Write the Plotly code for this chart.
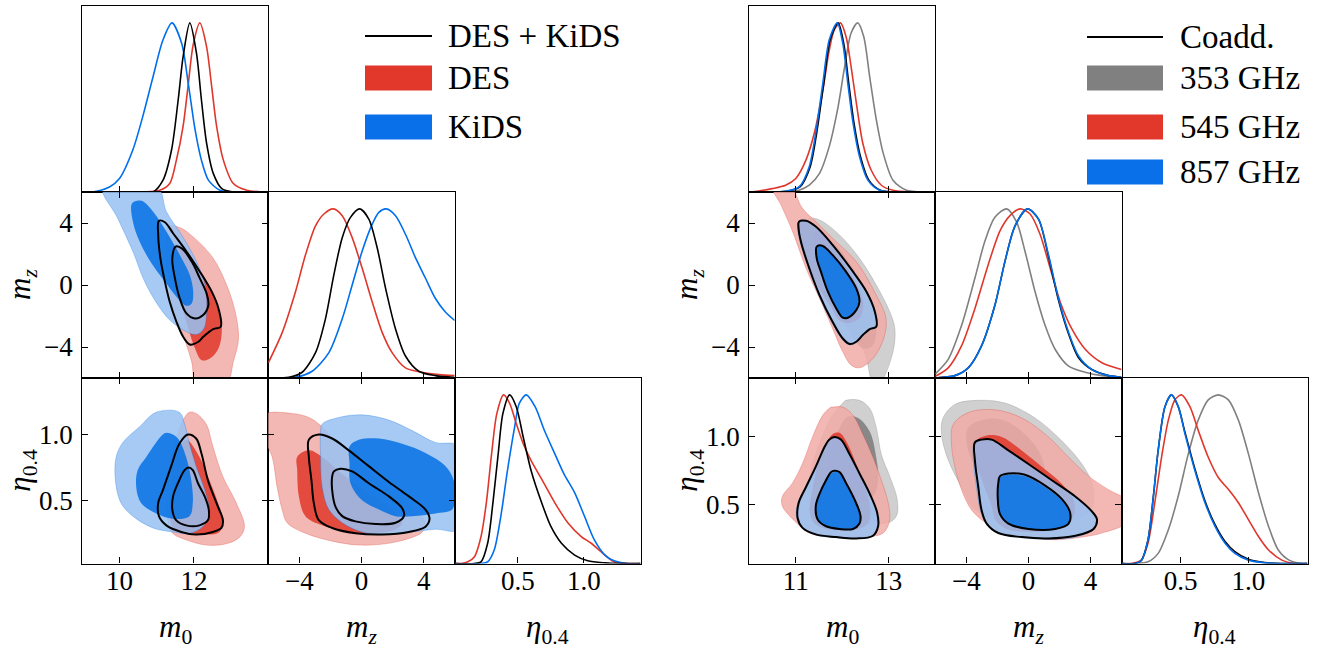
import plotly.graph_objects as go

W, H = 1320, 650

# ---------------- colours ----------------
RED_LIGHT, RED_DARK = "241,172,166", "224,55,42"
BLUE_LIGHT, BLUE_DARK = "151,193,242", "5,113,229"
GRAY_LIGHT, GRAY_DARK = "200,200,200", "123,123,123"
RED_LINE = "#e0372c"
BLUE_LINE = "#006fed"
GRAY_LINE = "#808080"

# ---------------- axis ranges / ticks ----------------
L_M0_RANGE = [9.0, 14.0]
R_M0_RANGE = [10.0, 14.0]
MZ_RANGE = [-6.0, 6.0]
L_ETA_RANGE = [0.02, 1.43]
R_ETA_RANGE = [0.065, 1.435]
L_M0_TICKS = [10, 12]
R_M0_TICKS = [11, 13]
MZ_TICKS = [-4, 0, 4]
MZ_TICKTEXT = ["\u22124", "0", "4"]
ETA_TICKS = [0.5, 1.0]
ETA_TICKTEXT = ["0.5", "1.0"]

# ================= LEFT TRIANGLE: DES + KiDS / DES / KiDS =================
# 1D m0
L_M0_DK_X = [9.0, 10.9, 11.17, 11.4, 11.58, 11.71, 11.89, 12.07, 12.2, 12.34, 12.52, 12.75, 13.06, 14.0]
L_M0_DK_Y = [0, 0, 0.07, 0.25, 0.55, 0.80, 1.0, 0.82, 0.55, 0.29, 0.11, 0.02, 0, 0]
L_M0_DES_X = [9.0, 10.63, 11.08, 11.35, 11.53, 11.71, 11.85, 11.98, 12.16, 12.34, 12.48, 12.61, 12.79, 13.06, 13.42, 13.87, 14.0]
L_M0_DES_Y = [0, 0, 0.01, 0.05, 0.19, 0.39, 0.64, 0.87, 1.0, 0.86, 0.62, 0.39, 0.19, 0.05, 0.01, 0, 0]
L_M0_KIDS_X = [9.0, 9.28, 9.73, 10.0, 10.36, 10.63, 10.9, 11.17, 11.41, 11.67, 11.85, 12.03, 12.2, 12.39, 12.7, 13.06, 14.0]
L_M0_KIDS_Y = [0, 0, 0.03, 0.08, 0.25, 0.45, 0.68, 0.90, 1.0, 0.88, 0.64, 0.37, 0.19, 0.07, 0.01, 0, 0]
# 1D mz
L_MZ_DK_X = [-6, -4.68, -3.82, -2.96, -2.32, -1.78, -1.24, -0.71, -0.11, 0.47, 1.01, 1.55, 2.19, 2.83, 3.69, 4.76, 6.0]
L_MZ_DK_Y = [0, 0.004, 0.034, 0.15, 0.35, 0.61, 0.83, 0.95, 1.0, 0.94, 0.77, 0.53, 0.29, 0.13, 0.04, 0.014, 0.003]
L_MZ_DES_X = [-6, -5.1, -4.25, -3.6, -2.96, -2.42, -1.82, -1.24, -0.6, 0.04, 0.69, 1.33, 1.97, 2.83, 3.9, 5.0, 6.0]
L_MZ_DES_Y = [0.09, 0.27, 0.51, 0.73, 0.90, 0.97, 1.0, 0.96, 0.83, 0.65, 0.45, 0.27, 0.15, 0.06, 0.034, 0.02, 0.014]
L_MZ_KIDS_X = [-6, -4.25, -3.18, -2.1, -1.24, -0.6, 0.04, 0.69, 1.12, 1.59, 2.19, 2.83, 3.48, 4.12, 4.76, 5.4, 6.0]
L_MZ_KIDS_Y = [0, 0.004, 0.04, 0.15, 0.35, 0.55, 0.75, 0.91, 0.98, 1.0, 0.96, 0.85, 0.71, 0.59, 0.47, 0.39, 0.34]
# 1D eta
L_ETA_DK_X = [0.02, 0.17, 0.22, 0.27, 0.31, 0.35, 0.386, 0.437, 0.487, 0.54, 0.60, 0.68, 0.75, 0.83, 0.93, 1.03, 1.16, 1.28, 1.43]
L_ETA_DK_Y = [0, 0, 0.01, 0.12, 0.36, 0.65, 0.89, 1.0, 0.93, 0.75, 0.55, 0.36, 0.22, 0.12, 0.05, 0.016, 0.004, 0, 0]
L_ETA_DES_X = [0.02, 0.07, 0.12, 0.17, 0.22, 0.26, 0.30, 0.34, 0.391, 0.437, 0.487, 0.54, 0.60, 0.68, 0.78, 0.88, 0.98, 1.056, 1.13, 1.23, 1.33, 1.43]
L_ETA_DES_Y = [0, 0, 0.01, 0.04, 0.16, 0.36, 0.65, 0.89, 1.0, 0.95, 0.83, 0.71, 0.61, 0.50, 0.36, 0.24, 0.16, 0.12, 0.07, 0.01, 0, 0]
L_ETA_KIDS_X = [0.02, 0.22, 0.27, 0.32, 0.37, 0.42, 0.475, 0.51, 0.563, 0.63, 0.70, 0.78, 0.85, 0.93, 1.005, 1.08, 1.16, 1.23, 1.33, 1.43]
L_ETA_KIDS_Y = [0, 0, 0.01, 0.08, 0.28, 0.55, 0.81, 0.95, 1.0, 0.93, 0.79, 0.65, 0.53, 0.42, 0.28, 0.14, 0.05, 0.016, 0, 0]

# 2D m0 - mz
KIDS_M0MZ_OUT_X = [9.55, 9.95, 10.36, 10.72, 11.31, 11.80, 12.07, 12.27, 12.34, 12.30, 12.07, 11.67, 11.26, 11.02]
KIDS_M0MZ_OUT_Y = [6.3, 4.31, 2.16, 0.0, -2.16, -3.02, -3.19, -2.80, -1.72, 0.0, 1.51, 3.23, 4.74, 6.3]
KIDS_M0MZ_IN_X = [10.34, 10.59, 10.90, 11.26, 11.62, 11.89, 11.98, 11.94, 11.80, 11.53, 11.22, 10.86, 10.54, 10.36]
KIDS_M0MZ_IN_Y = [5.28, 5.43, 4.74, 3.45, 1.94, 0.65, -0.43, -1.19, -1.34, -0.75, 0.22, 1.40, 2.80, 4.09]
DES_M0MZ_OUT_X = [11.31, 11.62, 12.07, 12.52, 12.88, 13.11, 13.20, 13.06, 12.88, 12.07, 11.94, 11.71, 11.44, 11.31, 11.26]
DES_M0MZ_OUT_Y = [3.77, 3.71, 2.91, 1.72, 0.0, -1.72, -3.45, -4.96, -6.3, -6.3, -4.96, -3.23, -1.51, 0.65, 2.80]
DES_M0MZ_IN_X = [11.49, 11.76, 12.07, 12.39, 12.61, 12.75, 12.66, 12.43, 12.21, 12.03, 11.85, 11.67, 11.51, 11.44]
DES_M0MZ_IN_Y = [2.59, 2.37, 1.29, 0.0, -1.29, -2.80, -4.09, -4.74, -4.85, -4.09, -2.80, -1.29, 0.43, 1.72]
DK_M0MZ_OUT_X = [11.06, 11.22, 11.44, 11.80, 12.16, 12.48, 12.66, 12.72, 12.52, 12.25, 12.12, 11.89, 11.71, 11.53, 11.35, 11.22, 11.10, 11.04]
DK_M0MZ_OUT_Y = [4.14, 4.05, 3.34, 2.16, 0.86, -0.43, -1.51, -2.69, -2.84, -3.34, -3.66, -3.84, -3.34, -2.37, -1.08, 0.22, 1.72, 3.23]
DK_M0MZ_IN_X = [11.51, 11.69, 11.94, 12.16, 12.34, 12.39, 12.25, 12.03, 11.80, 11.62, 11.49, 11.42]
DK_M0MZ_IN_Y = [2.48, 2.33, 1.51, 0.43, -0.54, -1.29, -1.94, -2.16, -1.83, -0.86, 0.43, 1.72]

# 2D m0 - eta
KIDS_M0ETA_OUT_X = [10.99, 10.54, 10.09, 9.91, 9.89, 10.04, 10.36, 10.90, 11.43, 11.88, 12.24, 12.42, 12.29, 12.06, 11.88, 11.75, 11.61]
KIDS_M0ETA_OUT_Y = [1.17, 1.06, 0.94, 0.83, 0.65, 0.48, 0.38, 0.29, 0.26, 0.25, 0.30, 0.40, 0.58, 0.76, 0.93, 1.08, 1.17]
KIDS_M0ETA_IN_X = [11.21, 10.72, 10.49, 10.45, 10.58, 10.99, 11.43, 11.88, 11.97, 11.93, 11.79, 11.57, 11.35]
KIDS_M0ETA_IN_Y = [1.01, 0.83, 0.73, 0.60, 0.48, 0.40, 0.36, 0.38, 0.48, 0.65, 0.83, 0.97, 1.01]
DES_M0ETA_OUT_X = [11.88, 12.06, 12.33, 12.51, 12.78, 13.14, 13.36, 13.23, 12.87, 12.33, 11.79, 11.43, 11.30, 11.26, 11.35, 11.52, 11.75]
DES_M0ETA_OUT_Y = [1.17, 1.16, 1.08, 0.91, 0.68, 0.48, 0.30, 0.22, 0.17, 0.16, 0.20, 0.25, 0.35, 0.53, 0.73, 0.96, 1.13]
DES_M0ETA_IN_X = [11.79, 12.15, 12.42, 12.65, 12.78, 12.69, 12.33, 11.79, 11.43, 11.35, 11.39, 11.52]
DES_M0ETA_IN_Y = [0.96, 0.83, 0.65, 0.48, 0.35, 0.26, 0.24, 0.26, 0.30, 0.43, 0.63, 0.83]
DK_M0ETA_OUT_X = [11.84, 12.06, 12.20, 12.38, 12.65, 12.78, 12.74, 12.51, 12.06, 11.66, 11.26, 11.06, 11.04, 11.17, 11.39, 11.61]
DK_M0ETA_OUT_Y = [1.00, 0.97, 0.86, 0.65, 0.45, 0.35, 0.29, 0.26, 0.24, 0.26, 0.31, 0.38, 0.48, 0.58, 0.76, 0.93]
DK_M0ETA_IN_X = [11.86, 11.97, 12.11, 12.29, 12.40, 12.38, 12.15, 11.79, 11.52, 11.42, 11.44, 11.57, 11.75]
DK_M0ETA_IN_Y = [0.75, 0.73, 0.63, 0.53, 0.43, 0.35, 0.31, 0.31, 0.35, 0.43, 0.53, 0.63, 0.73]

# 2D mz - eta
DES_MZETA_OUT_X = [-6.3, -4.46, -3.39, -2.64, -1.46, 0.04, 1.76, 3.26, 4.06, 3.91, 3.05, 1.55, -0.17, -1.89, -3.61, -4.79, -5.11, -5.43, -5.75, -6.3]
DES_MZETA_OUT_Y = [1.15, 1.16, 1.13, 1.07, 0.92, 0.76, 0.58, 0.44, 0.34, 0.26, 0.21, 0.17, 0.16, 0.19, 0.25, 0.33, 0.43, 0.60, 0.83, 0.98]
DES_MZETA_IN_X = [-4.14, -3.39, -2.53, -1.24, 0.47, 1.97, 2.62, 2.19, 0.69, -1.03, -2.53, -3.61, -4.03, -4.14]
DES_MZETA_IN_Y = [0.83, 0.88, 0.83, 0.70, 0.55, 0.43, 0.33, 0.28, 0.25, 0.26, 0.31, 0.38, 0.53, 0.73]
KIDS_MZETA_OUT_X = [-2.53, -1.46, 0.04, 1.76, 3.26, 4.76, 6.3, 6.3, 4.76, 3.26, 1.76, 0.04, -1.24, -2.10, -2.53, -2.64, -2.64]
KIDS_MZETA_OUT_Y = [1.08, 1.13, 1.15, 1.11, 1.03, 0.94, 0.91, 0.28, 0.28, 0.26, 0.24, 0.26, 0.33, 0.43, 0.60, 0.86, 1.01]
KIDS_MZETA_IN_X = [-0.77, -0.17, 1.12, 2.62, 4.12, 5.41, 5.94, 5.99, 5.84, 4.76, 3.26, 2.19, 1.12, 0.04, -0.71, -0.77]
KIDS_MZETA_IN_Y = [0.91, 0.96, 0.97, 0.93, 0.86, 0.76, 0.65, 0.50, 0.43, 0.40, 0.38, 0.38, 0.43, 0.50, 0.63, 0.78]
DK_MZETA_OUT_X = [-3.39, -2.75, -1.89, -0.82, 0.47, 1.76, 3.05, 4.12, 4.38, 4.12, 3.05, 1.33, -0.39, -1.89, -2.75, -3.07, -3.22, -3.39]
DK_MZETA_OUT_Y = [0.96, 1.00, 0.97, 0.88, 0.76, 0.64, 0.53, 0.43, 0.36, 0.30, 0.26, 0.24, 0.25, 0.29, 0.35, 0.48, 0.65, 0.83]
DK_MZETA_IN_X = [-1.78, -1.35, -0.60, 0.47, 1.76, 2.62, 2.73, 2.19, 0.90, -0.39, -1.24, -1.67, -1.89, -1.89]
DK_MZETA_IN_Y = [0.72, 0.74, 0.72, 0.63, 0.53, 0.44, 0.38, 0.33, 0.32, 0.34, 0.38, 0.45, 0.58, 0.68]

# ================= RIGHT TRIANGLE: Coadd. / 353 / 545 / 857 GHz =================
R_M0_CO_X = [10.0, 10.8, 11.09, 11.31, 11.45, 11.6, 11.74, 11.91, 12.03, 12.14, 12.25, 12.39, 12.57, 12.82, 13.1, 14.0]
R_M0_CO_Y = [0, 0.004, 0.03, 0.15, 0.35, 0.64, 0.90, 1.0, 0.88, 0.64, 0.41, 0.21, 0.07, 0.01, 0, 0]
R_M0_353_X = [10.0, 10.78, 11.07, 11.29, 11.51, 11.72, 11.9, 12.05, 12.19, 12.33, 12.46, 12.59, 12.73, 12.88, 13.09, 13.38, 13.8, 14.0]
R_M0_353_Y = [0, 0, 0.01, 0.04, 0.11, 0.27, 0.49, 0.74, 0.94, 1.0, 0.92, 0.68, 0.43, 0.23, 0.07, 0.01, 0, 0]
R_M0_545_X = [10.0, 10.2, 10.49, 10.78, 11.0, 11.22, 11.4, 11.58, 11.72, 11.83, 11.96, 12.08, 12.19, 12.3, 12.44, 12.62, 12.84, 13.09, 13.5, 14.0]
R_M0_545_Y = [0, 0.006, 0.02, 0.04, 0.08, 0.19, 0.35, 0.60, 0.84, 0.96, 1.0, 0.92, 0.74, 0.53, 0.29, 0.13, 0.04, 0.01, 0, 0]
R_M0_857_X = [10.0, 10.2, 10.78, 11.07, 11.29, 11.43, 11.58, 11.72, 11.89, 12.01, 12.12, 12.23, 12.37, 12.55, 12.8, 13.09, 14.0]
R_M0_857_Y = [0, 0, 0.004, 0.03, 0.15, 0.35, 0.64, 0.90, 1.0, 0.88, 0.64, 0.41, 0.21, 0.07, 0.01, 0, 0]

R_MZ_CO_X = [-6, -4.74, -3.88, -3.02, -2.16, -1.51, -0.86, -0.06, 0.65, 1.29, 1.94, 2.59, 3.23, 4.09, 5.17, 6.0]
R_MZ_CO_Y = [0, 0.014, 0.06, 0.19, 0.43, 0.69, 0.90, 1.0, 0.94, 0.72, 0.46, 0.26, 0.12, 0.05, 0.014, 0.004]
R_MZ_353_X = [-6, -5.17, -4.31, -3.45, -2.8, -2.16, -1.4, -0.75, -0.22, 0.43, 1.08, 1.72, 2.59, 3.66, 4.74, 6.0]
R_MZ_353_Y = [0.024, 0.11, 0.31, 0.59, 0.81, 0.95, 1.0, 0.92, 0.75, 0.51, 0.31, 0.17, 0.07, 0.034, 0.014, 0.006]
R_MZ_545_X = [-6, -5.17, -4.31, -3.45, -2.59, -1.83, -1.19, -0.54, 0.11, 0.75, 1.4, 2.05, 2.8, 3.66, 4.74, 6.0]
R_MZ_545_Y = [0.01, 0.06, 0.19, 0.41, 0.67, 0.87, 0.96, 1.0, 0.97, 0.85, 0.65, 0.45, 0.29, 0.17, 0.09, 0.05]
R_MZ_857_X = [-6, -4.74, -3.88, -3.02, -2.16, -1.51, -0.86, -0.06, 0.65, 1.29, 1.94, 2.59, 3.23, 4.09, 5.17, 6.0]
R_MZ_857_Y = [0, 0.014, 0.06, 0.19, 0.43, 0.69, 0.90, 1.0, 0.94, 0.73, 0.47, 0.27, 0.13, 0.05, 0.014, 0.004]

R_ETA_CO_X = [0.065, 0.163, 0.21, 0.26, 0.30, 0.335, 0.385, 0.433, 0.483, 0.532, 0.606, 0.68, 0.754, 0.828, 0.90, 1.0, 1.12, 1.25, 1.435]
R_ETA_CO_Y = [0, 0, 0.016, 0.14, 0.40, 0.67, 0.93, 1.0, 0.93, 0.78, 0.56, 0.37, 0.23, 0.13, 0.07, 0.025, 0.005, 0, 0]
R_ETA_353_X = [0.065, 0.163, 0.26, 0.335, 0.41, 0.483, 0.557, 0.63, 0.704, 0.778, 0.852, 0.926, 1.0, 1.074, 1.148, 1.22, 1.30, 1.40, 1.435]
R_ETA_353_Y = [0, 0, 0.01, 0.06, 0.20, 0.40, 0.65, 0.85, 0.97, 1.0, 0.97, 0.85, 0.65, 0.42, 0.22, 0.08, 0.02, 0, 0]
R_ETA_545_X = [0.065, 0.14, 0.21, 0.26, 0.31, 0.36, 0.41, 0.458, 0.507, 0.569, 0.63, 0.704, 0.778, 0.852, 0.926, 1.0, 1.074, 1.148, 1.246, 1.34, 1.435]
R_ETA_545_Y = [0, 0, 0.02, 0.12, 0.36, 0.63, 0.85, 0.97, 1.0, 0.93, 0.79, 0.63, 0.51, 0.44, 0.36, 0.26, 0.16, 0.08, 0.02, 0, 0]
R_ETA_857_X = [0.065, 0.163, 0.21, 0.26, 0.30, 0.335, 0.385, 0.433, 0.483, 0.532, 0.606, 0.68, 0.754, 0.828, 0.90, 1.0, 1.12, 1.25, 1.435]
R_ETA_857_Y = [0, 0, 0.016, 0.14, 0.40, 0.67, 0.93, 1.0, 0.93, 0.77, 0.55, 0.36, 0.22, 0.12, 0.06, 0.02, 0.004, 0, 0]

# 2D m0 - mz
P353_M0MZ_OUT_X = [11.22, 11.43, 11.79, 12.08, 12.37, 12.52, 12.66, 12.81, 13.09, 13.13, 13.02, 12.73, 12.37, 11.94, 11.51, 11.29]
P353_M0MZ_OUT_Y = [4.09, 2.16, 0.0, -1.72, -3.45, -4.74, -6.3, -6.3, -4.31, -2.80, -1.72, 0.0, 1.72, 3.23, 4.20, 4.31]
P353_M0MZ_IN_X = [11.43, 11.79, 12.23, 12.59, 12.73, 12.66, 12.44, 12.16, 11.79, 11.51, 11.40]
P353_M0MZ_IN_Y = [3.45, 2.80, 1.08, -0.86, -2.59, -3.88, -4.09, -3.02, -1.08, 1.08, 2.59]
P545_M0MZ_OUT_X = [10.50, 10.89, 11.14, 11.43, 11.79, 12.30, 12.73, 12.94, 12.89, 12.66, 12.37, 12.19, 12.01, 11.79, 11.51, 11.22, 10.93, 10.68]
P545_M0MZ_OUT_Y = [6.3, 6.3, 4.96, 4.09, 3.02, 1.51, -0.65, -2.16, -3.45, -4.74, -5.34, -5.17, -4.31, -2.80, -0.86, 1.08, 3.45, 5.17]
P545_M0MZ_IN_X = [11.05, 11.25, 11.48, 11.80, 12.15, 12.38, 12.45, 12.35, 12.15, 11.95, 11.75, 11.50, 11.25, 11.08]
P545_M0MZ_IN_Y = [4.10, 4.10, 3.70, 2.50, 0.90, -0.40, -1.40, -2.20, -2.45, -2.30, -1.40, -0.20, 1.40, 3.00]
P857_M0MZ_OUT_X = [11.06, 11.22, 11.44, 11.80, 12.24, 12.53, 12.71, 12.74, 12.60, 12.45, 12.31, 12.15, 11.99, 11.77, 11.49, 11.27, 11.09, 11.04]
P857_M0MZ_OUT_Y = [4.12, 4.17, 3.78, 2.58, 0.85, -0.44, -1.73, -2.70, -2.86, -3.26, -3.70, -3.86, -3.48, -2.38, -0.64, 1.10, 2.82, 3.68]
P857_M0MZ_IN_X = [11.45, 11.58, 11.79, 12.07, 12.29, 12.36, 12.29, 12.11, 12.00, 11.86, 11.68, 11.53, 11.45]
P857_M0MZ_IN_Y = [2.46, 2.50, 1.92, 0.85, -0.22, -1.08, -1.62, -2.10, -2.10, -1.50, -0.42, 0.86, 1.72]
CO_M0MZ_OUT_X = [11.07, 11.22, 11.43, 11.79, 12.23, 12.52, 12.70, 12.73, 12.59, 12.44, 12.30, 12.16, 12.01, 11.79, 11.51, 11.29, 11.11, 11.06]
CO_M0MZ_OUT_Y = [4.09, 4.14, 3.77, 2.59, 0.86, -0.43, -1.72, -2.69, -2.84, -3.23, -3.66, -3.81, -3.45, -2.37, -0.65, 1.08, 2.80, 3.66]
CO_M0MZ_IN_X = [11.45, 11.58, 11.79, 12.08, 12.30, 12.37, 12.30, 12.12, 12.01, 11.87, 11.69, 11.54, 11.45]
CO_M0MZ_IN_Y = [2.48, 2.52, 1.94, 0.86, -0.22, -1.08, -1.62, -2.11, -2.11, -1.51, -0.43, 0.86, 1.72]

# 2D m0 - eta
P353_M0ETA_OUT_X = [12.08, 12.37, 12.59, 12.73, 12.84, 13.02, 13.18, 13.17, 13.02, 12.66, 12.23, 11.79, 11.43, 11.29, 11.32, 11.51, 11.79, 12.01]
P353_M0ETA_OUT_Y = [1.27, 1.27, 1.21, 1.07, 0.87, 0.71, 0.54, 0.42, 0.37, 0.36, 0.36, 0.39, 0.46, 0.58, 0.75, 0.95, 1.16, 1.25]
P353_M0ETA_IN_X = [12.12, 12.34, 12.59, 12.73, 12.77, 12.66, 12.37, 12.01, 11.72, 11.65, 11.72, 11.90]
P353_M0ETA_IN_Y = [1.15, 1.14, 1.04, 0.85, 0.68, 0.56, 0.51, 0.52, 0.58, 0.71, 0.87, 1.04]
P545_M0ETA_OUT_X = [11.79, 12.01, 12.23, 12.44, 12.66, 12.84, 12.99, 13.02, 12.88, 12.37, 11.79, 11.29, 11.00, 10.71, 10.71, 10.93, 11.14, 11.36, 11.58, 11.76]
P545_M0ETA_OUT_Y = [1.22, 1.22, 1.16, 1.02, 0.85, 0.68, 0.51, 0.39, 0.29, 0.26, 0.26, 0.29, 0.37, 0.49, 0.56, 0.66, 0.80, 1.00, 1.16, 1.22]
P545_M0ETA_IN_X = [11.79, 11.94, 12.08, 12.30, 12.52, 12.60, 12.55, 12.35, 12.00, 11.65, 11.40, 11.30, 11.35, 11.48, 11.65]
P545_M0ETA_IN_Y = [1.02, 1.03, 0.97, 0.80, 0.60, 0.45, 0.36, 0.32, 0.31, 0.32, 0.36, 0.45, 0.60, 0.80, 0.95]
P857_M0ETA_OUT_X = [11.72, 11.83, 11.97, 12.16, 12.37, 12.59, 12.75, 12.77, 12.66, 12.30, 11.87, 11.43, 11.13, 11.02, 11.04, 11.21, 11.43, 11.61]
P857_M0ETA_OUT_Y = [0.975, 0.995, 0.975, 0.87, 0.73, 0.58, 0.44, 0.34, 0.27, 0.25, 0.255, 0.275, 0.33, 0.40, 0.51, 0.63, 0.78, 0.92]
P857_M0ETA_IN_X = [11.83, 11.94, 12.08, 12.26, 12.39, 12.37, 12.23, 11.94, 11.65, 11.47, 11.43, 11.51, 11.65, 11.76]
P857_M0ETA_IN_Y = [0.74, 0.73, 0.66, 0.54, 0.42, 0.36, 0.32, 0.32, 0.34, 0.39, 0.49, 0.58, 0.68, 0.73]
CO_M0ETA_OUT_X = [11.72, 11.83, 11.97, 12.16, 12.37, 12.59, 12.75, 12.77, 12.66, 12.30, 11.87, 11.43, 11.14, 11.04, 11.06, 11.22, 11.43, 11.61]
CO_M0ETA_OUT_Y = [0.98, 1.00, 0.98, 0.87, 0.73, 0.58, 0.44, 0.34, 0.27, 0.25, 0.26, 0.28, 0.33, 0.40, 0.51, 0.63, 0.78, 0.92]
CO_M0ETA_IN_X = [11.83, 11.94, 12.08, 12.26, 12.39, 12.37, 12.23, 11.94, 11.65, 11.47, 11.43, 11.51, 11.65, 11.76]
CO_M0ETA_IN_Y = [0.75, 0.74, 0.66, 0.54, 0.42, 0.36, 0.32, 0.32, 0.34, 0.39, 0.49, 0.58, 0.68, 0.74]

# 2D mz - eta
P353_MZETA_OUT_X = [-5.50, -4.74, -3.23, -1.51, 0.43, 2.16, 3.45, 4.09, 4.20, 3.88, 3.02, 1.72, 0.0, -1.51, -2.80, -3.66, -4.31, -5.17, -5.60]
P353_MZETA_OUT_Y = [1.14, 1.24, 1.27, 1.25, 1.14, 0.97, 0.80, 0.66, 0.51, 0.44, 0.39, 0.36, 0.36, 0.38, 0.42, 0.49, 0.63, 0.83, 1.02]
P353_MZETA_IN_X = [-3.88, -2.80, -1.51, -0.22, 0.65, 1.08, 0.86, 0.0, -1.51, -2.80, -3.66, -3.99]
P353_MZETA_IN_Y = [1.07, 1.13, 1.12, 1.02, 0.90, 0.75, 0.61, 0.56, 0.58, 0.68, 0.83, 0.97]
P545_MZETA_OUT_X = [-4.85, -3.88, -2.16, -0.43, 1.29, 2.59, 3.88, 5.17, 6.3, 6.3, 4.74, 3.45, 1.72, 0.0, -1.51, -2.80, -3.66, -4.31, -4.74, -4.96]
P545_MZETA_OUT_Y = [1.09, 1.18, 1.20, 1.14, 1.00, 0.85, 0.71, 0.61, 0.53, 0.37, 0.29, 0.26, 0.24, 0.26, 0.29, 0.37, 0.46, 0.61, 0.78, 0.95]
P545_MZETA_IN_X = [-3.45, -2.69, -1.72, -0.43, 0.86, 2.10, 2.85, 3.00, 2.60, 1.50, 0.00, -1.40, -2.10, -2.40, -2.90, -3.40]
P545_MZETA_IN_Y = [0.96, 1.01, 1.00, 0.90, 0.78, 0.66, 0.55, 0.45, 0.36, 0.31, 0.30, 0.32, 0.38, 0.50, 0.65, 0.82]
P857_MZETA_OUT_X = [-3.50, -3.05, -2.37, -1.29, 0.0, 1.51, 3.02, 4.09, 4.45, 4.22, 3.02, 1.29, -0.43, -1.94, -2.72, -3.10, -3.35, -3.55]
P857_MZETA_OUT_Y = [0.95, 0.98, 0.98, 0.90, 0.80, 0.68, 0.56, 0.45, 0.39, 0.32, 0.26, 0.245, 0.255, 0.29, 0.36, 0.46, 0.63, 0.83]
P857_MZETA_IN_X = [-1.83, -1.29, -0.22, 1.08, 2.16, 2.69, 2.59, 1.72, 0.0, -1.29, -1.83, -1.98, -1.94]
P857_MZETA_IN_Y = [0.70, 0.72, 0.71, 0.63, 0.53, 0.44, 0.36, 0.32, 0.32, 0.36, 0.43, 0.56, 0.66]
CO_MZETA_OUT_X = [-3.45, -3.02, -2.37, -1.29, 0.0, 1.51, 3.02, 4.09, 4.42, 4.20, 3.02, 1.29, -0.43, -1.94, -2.69, -3.02, -3.23, -3.45]
CO_MZETA_OUT_Y = [0.96, 0.98, 0.98, 0.90, 0.80, 0.68, 0.56, 0.45, 0.39, 0.32, 0.27, 0.25, 0.26, 0.29, 0.36, 0.46, 0.63, 0.83]
CO_MZETA_IN_X = [-1.83, -1.29, -0.22, 1.08, 2.16, 2.69, 2.59, 1.72, 0.0, -1.29, -1.83, -1.98, -1.94]
CO_MZETA_IN_Y = [0.71, 0.73, 0.72, 0.64, 0.54, 0.44, 0.36, 0.32, 0.32, 0.36, 0.43, 0.56, 0.66]

# ---------------- legend labels ----------------
LEFT_LABELS = ["DES + KiDS", "DES", "KiDS"]
RIGHT_LABELS = ["Coadd.", "353 GHz", "545 GHz", "857 GHz"]

# ---------------- layout geometry (pixels) ----------------
LEFT_COLS = [(82.3, 268.3), (268.3, 454.7), (454.7, 640.5)]
RIGHT_COLS = [(749.3, 935.3), (935.3, 1121.5), (1121.5, 1307.5)]
ROWS = [(6.0, 192.0), (192.0, 378.0), (378.0, 563.5)]
PANELS = [(0, 0), (1, 0), (1, 1), (2, 0), (2, 1), (2, 2)]

FONT = "'Liberation Serif', 'DejaVu Serif', serif"
TICK_SIZE = 27
TITLE_SIZE = 31

fig = go.Figure()


def axn(n):
    return "" if n == 1 else str(n)


def closed(xs, ys):
    return list(xs) + [xs[0]], list(ys) + [ys[0]]


def add_line(n, xs, ys, color, width=1.6):
    fig.add_trace(go.Scatter(x=xs, y=ys, mode="lines",
                             line=dict(color=color, width=width, shape="spline", smoothing=0.8),
                             xaxis="x" + axn(n), yaxis="y" + axn(n),
                             hoverinfo="skip", showlegend=False))


A = 0.85


def add_fill(n, xs, ys, rgb, edge_rgb, edge_alpha):
    cx, cy = closed(xs, ys)
    fig.add_trace(go.Scatter(x=cx, y=cy, mode="lines", fill="toself",
                             fillcolor="rgba(%s,%s)" % (rgb, A),
                             line=dict(color="rgba(%s,%s)" % (edge_rgb, edge_alpha), width=0.8,
                                       shape="spline", smoothing=1.0),
                             xaxis="x" + axn(n), yaxis="y" + axn(n),
                             hoverinfo="skip", showlegend=False))


def add_pair(n, ox, oy, ix, iy, light, dark):
    add_fill(n, ox, oy, light, dark, 0.35)
    add_fill(n, ix, iy, dark, dark, 0.0)


def add_contour(n, xs, ys, width=2.0):
    cx, cy = closed(xs, ys)
    fig.add_trace(go.Scatter(x=cx, y=cy, mode="lines",
                             line=dict(color="black", width=width, shape="spline", smoothing=1.0),
                             xaxis="x" + axn(n), yaxis="y" + axn(n),
                             hoverinfo="skip", showlegend=False))


# ---- left triangle traces (panel numbers 1..6) ----
add_line(1, L_M0_DES_X, L_M0_DES_Y, RED_LINE)
add_line(1, L_M0_KIDS_X, L_M0_KIDS_Y, BLUE_LINE)
add_line(1, L_M0_DK_X, L_M0_DK_Y, "black")

add_pair(2, DES_M0MZ_OUT_X, DES_M0MZ_OUT_Y, DES_M0MZ_IN_X, DES_M0MZ_IN_Y, RED_LIGHT, RED_DARK)
add_pair(2, KIDS_M0MZ_OUT_X, KIDS_M0MZ_OUT_Y, KIDS_M0MZ_IN_X, KIDS_M0MZ_IN_Y, BLUE_LIGHT, BLUE_DARK)
add_contour(2, DK_M0MZ_OUT_X, DK_M0MZ_OUT_Y)
add_contour(2, DK_M0MZ_IN_X, DK_M0MZ_IN_Y)

add_line(3, L_MZ_DES_X, L_MZ_DES_Y, RED_LINE)
add_line(3, L_MZ_KIDS_X, L_MZ_KIDS_Y, BLUE_LINE)
add_line(3, L_MZ_DK_X, L_MZ_DK_Y, "black")

add_pair(4, DES_M0ETA_OUT_X, DES_M0ETA_OUT_Y, DES_M0ETA_IN_X, DES_M0ETA_IN_Y, RED_LIGHT, RED_DARK)
add_pair(4, KIDS_M0ETA_OUT_X, KIDS_M0ETA_OUT_Y, KIDS_M0ETA_IN_X, KIDS_M0ETA_IN_Y, BLUE_LIGHT, BLUE_DARK)
add_contour(4, DK_M0ETA_OUT_X, DK_M0ETA_OUT_Y)
add_contour(4, DK_M0ETA_IN_X, DK_M0ETA_IN_Y)

add_pair(5, DES_MZETA_OUT_X, DES_MZETA_OUT_Y, DES_MZETA_IN_X, DES_MZETA_IN_Y, RED_LIGHT, RED_DARK)
add_pair(5, KIDS_MZETA_OUT_X, KIDS_MZETA_OUT_Y, KIDS_MZETA_IN_X, KIDS_MZETA_IN_Y, BLUE_LIGHT, BLUE_DARK)
add_contour(5, DK_MZETA_OUT_X, DK_MZETA_OUT_Y)
add_contour(5, DK_MZETA_IN_X, DK_MZETA_IN_Y)

add_line(6, L_ETA_DES_X, L_ETA_DES_Y, RED_LINE)
add_line(6, L_ETA_KIDS_X, L_ETA_KIDS_Y, BLUE_LINE)
add_line(6, L_ETA_DK_X, L_ETA_DK_Y, "black")

# ---- right triangle traces (panel numbers 7..12) ----
add_line(7, R_M0_353_X, R_M0_353_Y, GRAY_LINE)
add_line(7, R_M0_545_X, R_M0_545_Y, RED_LINE)
add_line(7, R_M0_CO_X, R_M0_CO_Y, "black")
add_line(7, R_M0_857_X, R_M0_857_Y, BLUE_LINE)

add_pair(8, P353_M0MZ_OUT_X, P353_M0MZ_OUT_Y, P353_M0MZ_IN_X, P353_M0MZ_IN_Y, GRAY_LIGHT, GRAY_DARK)
add_pair(8, P545_M0MZ_OUT_X, P545_M0MZ_OUT_Y, P545_M0MZ_IN_X, P545_M0MZ_IN_Y, RED_LIGHT, RED_DARK)
add_pair(8, P857_M0MZ_OUT_X, P857_M0MZ_OUT_Y, P857_M0MZ_IN_X, P857_M0MZ_IN_Y, BLUE_LIGHT, BLUE_DARK)
add_contour(8, CO_M0MZ_OUT_X, CO_M0MZ_OUT_Y)
add_contour(8, CO_M0MZ_IN_X, CO_M0MZ_IN_Y)

add_line(9, R_MZ_353_X, R_MZ_353_Y, GRAY_LINE)
add_line(9, R_MZ_545_X, R_MZ_545_Y, RED_LINE)
add_line(9, R_MZ_CO_X, R_MZ_CO_Y, "black")
add_line(9, R_MZ_857_X, R_MZ_857_Y, BLUE_LINE)

add_pair(10, P353_M0ETA_OUT_X, P353_M0ETA_OUT_Y, P353_M0ETA_IN_X, P353_M0ETA_IN_Y, GRAY_LIGHT, GRAY_DARK)
add_pair(10, P545_M0ETA_OUT_X, P545_M0ETA_OUT_Y, P545_M0ETA_IN_X, P545_M0ETA_IN_Y, RED_LIGHT, RED_DARK)
add_pair(10, P857_M0ETA_OUT_X, P857_M0ETA_OUT_Y, P857_M0ETA_IN_X, P857_M0ETA_IN_Y, BLUE_LIGHT, BLUE_DARK)
add_contour(10, CO_M0ETA_OUT_X, CO_M0ETA_OUT_Y)
add_contour(10, CO_M0ETA_IN_X, CO_M0ETA_IN_Y)

add_pair(11, P353_MZETA_OUT_X, P353_MZETA_OUT_Y, P353_MZETA_IN_X, P353_MZETA_IN_Y, GRAY_LIGHT, GRAY_DARK)
add_pair(11, P545_MZETA_OUT_X, P545_MZETA_OUT_Y, P545_MZETA_IN_X, P545_MZETA_IN_Y, RED_LIGHT, RED_DARK)
add_pair(11, P857_MZETA_OUT_X, P857_MZETA_OUT_Y, P857_MZETA_IN_X, P857_MZETA_IN_Y, BLUE_LIGHT, BLUE_DARK)
add_contour(11, CO_MZETA_OUT_X, CO_MZETA_OUT_Y)
add_contour(11, CO_MZETA_IN_X, CO_MZETA_IN_Y)

add_line(12, R_ETA_353_X, R_ETA_353_Y, GRAY_LINE)
add_line(12, R_ETA_545_X, R_ETA_545_Y, RED_LINE)
add_line(12, R_ETA_CO_X, R_ETA_CO_Y, "black")
add_line(12, R_ETA_857_X, R_ETA_857_Y, BLUE_LINE)

# ---------------- axes ----------------
layout = {}
tri_specs = [
    (0, LEFT_COLS, [L_M0_RANGE, MZ_RANGE, L_ETA_RANGE], [L_M0_TICKS, MZ_TICKS, ETA_TICKS],
     [[str(v) for v in L_M0_TICKS], MZ_TICKTEXT, ETA_TICKTEXT]),
    (6, RIGHT_COLS, [R_M0_RANGE, MZ_RANGE, R_ETA_RANGE], [R_M0_TICKS, MZ_TICKS, ETA_TICKS],
     [[str(v) for v in R_M0_TICKS], MZ_TICKTEXT, ETA_TICKTEXT]),
]
base = dict(showgrid=False, zeroline=False, showline=True, linecolor="black", linewidth=1.3,
            ticks="inside", ticklen=6, tickwidth=1.1, tickcolor="black",
            tickfont=dict(family=FONT, size=TICK_SIZE, color="black"))
for offset, cols, ranges, tvals, ttexts in tri_specs:
    for k, (r, c) in enumerate(PANELS):
        n = offset + k + 1
        x0, x1 = cols[c]
        ytop, ybot = ROWS[r]
        diag = (r == c)
        xa = dict(base)
        xa.update(domain=[x0 / W, x1 / W], anchor="y" + axn(n), range=ranges[c],
                  tickvals=tvals[c], ticktext=ttexts[c], showticklabels=(r == 2),
                  mirror=(True if diag else "allticks"), ticklabelstandoff=-7)
        ya = dict(base)
        if diag:
            ya.update(domain=[1 - ybot / H, 1 - ytop / H], anchor="x" + axn(n), range=[0, 1.1],
                      ticks="", showticklabels=False, mirror=True)
        else:
            ya.update(domain=[1 - ybot / H, 1 - ytop / H], anchor="x" + axn(n), range=ranges[r],
                      tickvals=tvals[r], ticktext=ttexts[r], showticklabels=(c == 0),
                      mirror="allticks", ticklabelstandoff=3)
        layout["xaxis" + axn(n)] = xa
        layout["yaxis" + axn(n)] = ya

# ---------------- axis titles ----------------
M0_T = "<i>m</i><sub>0</sub>"
MZ_T = "<i>m</i><sub><i>z</i></sub>"
ETA_T = "<i>η</i><sub>0.4</sub>"
annotations = []
for cols in (LEFT_COLS, RIGHT_COLS):
    for (x0, x1), t in zip(cols, [M0_T, MZ_T, ETA_T]):
        annotations.append(dict(text=t, x=(x0 + x1) / 2 / W, y=1 - 629 / H, xref="paper", yref="paper",
                                showarrow=False, xanchor="center", yanchor="middle",
                                font=dict(family=FONT, size=TITLE_SIZE, color="black")))
for xc in (22, 689):
    for (yt, yb), t in zip(ROWS[1:], [MZ_T, ETA_T]):
        annotations.append(dict(text=t, x=xc / W, y=1 - (yt + yb) / 2 / H, xref="paper", yref="paper",
                                showarrow=False, xanchor="center", yanchor="middle", textangle=-90,
                                font=dict(family=FONT, size=TITLE_SIZE, color="black")))

# ---------------- legends ----------------
shapes = []
LEG_FONT = dict(family=FONT, size=33, color="black")


def legend(x0, x1, xt, ys, labels, kinds):
    for yc, lab, kind in zip(ys, labels, kinds):
        if kind == "line":
            shapes.append(dict(type="line", xref="paper", yref="paper", x0=x0 / W, x1=x1 / W,
                               y0=1 - yc / H, y1=1 - yc / H, line=dict(color="black", width=2)))
        else:
            shapes.append(dict(type="rect", xref="paper", yref="paper", x0=x0 / W, x1=x1 / W,
                               y0=1 - (yc + 12.5) / H, y1=1 - (yc - 12.5) / H,
                               fillcolor=kind, line=dict(width=0)))
        annotations.append(dict(text=lab, x=xt / W, y=1 - yc / H, xref="paper", yref="paper",
                                showarrow=False, xanchor="left", yanchor="middle", font=LEG_FONT))


legend(365, 432, 446, [36, 78, 127], LEFT_LABELS, ["line", "#e2382c", "#0a70ea"])
legend(1087, 1163, 1178, [37, 78, 127, 172], RIGHT_LABELS, ["line", "#808080", "#e2382c", "#0a70ea"])

fig.update_layout(**layout)
fig.update_layout(width=W, height=H, margin=dict(l=0, r=0, t=0, b=0),
                  paper_bgcolor="white", plot_bgcolor="white",
                  annotations=annotations, shapes=shapes, showlegend=False)

fig.write_html("out.html")
